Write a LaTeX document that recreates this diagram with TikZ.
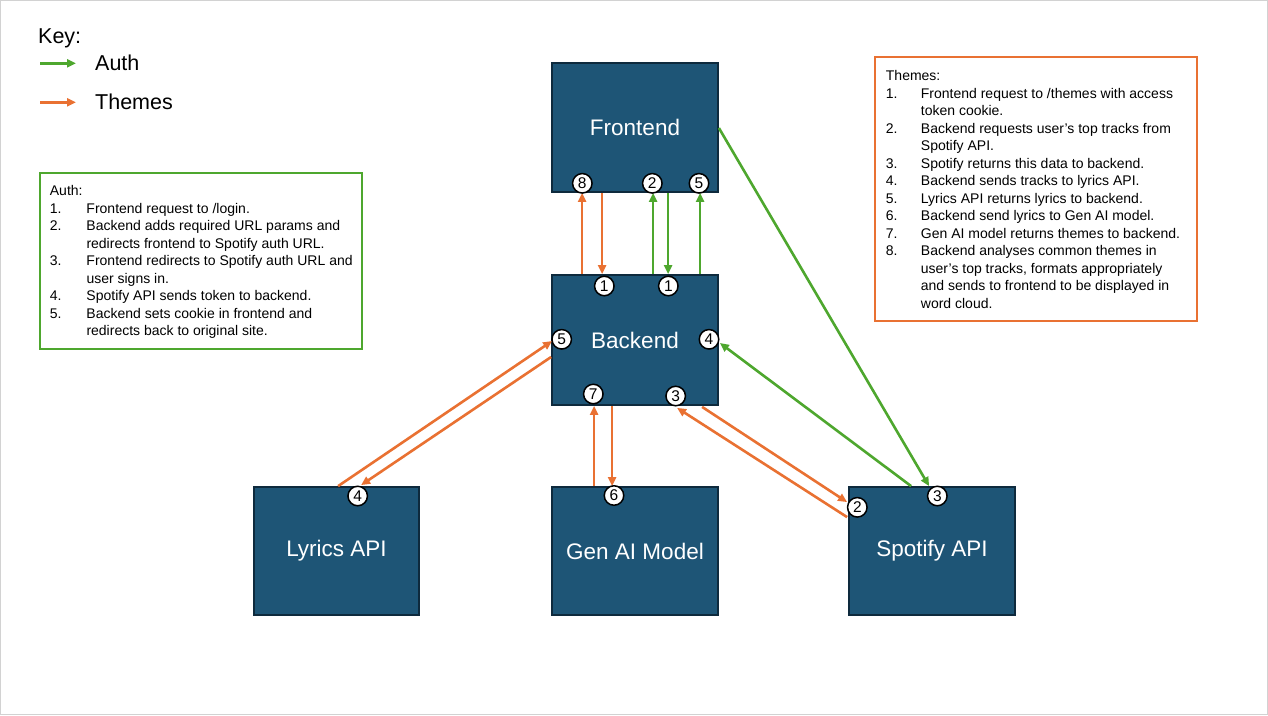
\documentclass[tikz,border=0pt]{standalone}
\usepackage{fontspec}
\setmainfont{Liberation Sans}
\usetikzlibrary{arrows.meta,calc}
\definecolor{boxfill}{HTML}{1E5576}
\definecolor{boxborder}{HTML}{0E2A3D}
\definecolor{authgreen}{HTML}{4EA72E}
\definecolor{themeorange}{HTML}{E97132}
\begin{document}
\begin{tikzpicture}[x=1pt,y=-1pt,
  comp/.style={draw=boxborder, line width=1.8pt, fill=boxfill, minimum width=166pt, minimum height=129pt, text=white, font=\fontsize{22.5}{26}\selectfont, inner sep=0pt},
  num/.style={circle, draw=black, line width=1.5pt, fill=white, minimum size=19.5pt, inner sep=0pt, font=\fontsize{15.5}{15.5}\selectfont},
  authar/.style={draw=authgreen, line width=2.6pt, -{Triangle[length=9pt,width=8pt]}},
  themear/.style={draw=themeorange, line width=2.6pt, -{Triangle[length=9pt,width=8pt]}},
  listtext/.style={anchor=north west, inner sep=0pt, font=\fontsize{14}{17.5}\selectfont},
  keytext/.style={anchor=west, inner sep=0pt, font=\fontsize{21.5}{25}\selectfont}
]
\useasboundingbox (0,0) rectangle (1268,715);
\draw[gray!35, line width=1pt] (0.5,0.5) rectangle (1267.5,714.5);

% Key
\node[keytext] (keytitle) at (38,38) {Key:};
\coordinate (ka1) at (40,63.3);
\coordinate (ka2) at (76,63.3);
\coordinate (kb1) at (40,102.3);
\coordinate (kb2) at (76,102.3);
\draw[authgreen, line width=2.6pt, -{Triangle[length=9pt,width=8pt]}] (ka1) -- (ka2);
\draw[themeorange, line width=2.6pt, -{Triangle[length=9pt,width=8pt]}] (kb1) -- (kb2);
\node[keytext] (keyauth) at (95,63.3) {Auth};
\node[keytext] (keythemes) at (95,101.5) {Themes};

% Components
\node[comp] (fe) at (635,127.5) {Frontend};
\node[comp, minimum height=130pt] (be) at (635,340) {Backend};
\node[comp, minimum width=165pt, minimum height=128pt] (ly) at (336.5,551) {Lyrics API};
\node[comp, minimum height=128pt] (ga) at (635,551) {Gen AI Model};
\node[comp, minimum height=128pt] (sp) at (932,551) {Spotify API};

% Frontend <-> Backend
\draw[themear] ($(be.north west)+(31,0)$) -- ($(fe.south west)+(31,0)$);
\draw[themear] ($(fe.south west)+(51,0)$) -- ($(be.north west)+(51,0)$);
\draw[authar] ($(be.north west)+(102,0)$) -- ($(fe.south west)+(102,0)$);
\draw[authar] ($(fe.south west)+(117,0)$) -- ($(be.north west)+(117,0)$);
\draw[authar] ($(be.north west)+(149,0)$) -- ($(fe.south west)+(149,0)$);

% Frontend -> Spotify, Spotify -> Backend (auth)
\draw[authar] ($(fe.east)+(0,0.5)$) -- ($(sp.north west)+(81,0)$);
\draw[authar] ($(sp.north west)+(63,0)$) -- ($(be.east)+(1,3)$);

% Lyrics
\draw[themear] ($(ly.north west)+(85,0)$) -- ($(be.west)+(1,1)$);
\draw[themear] ($(be.west)+(0,17)$) -- ($(ly.north west)+(108,-1)$);

% Gen AI
\draw[themear] ($(ga.north west)+(43,0)$) -- ($(be.south west)+(43,0)$);
\draw[themear] ($(be.south west)+(61,0)$) -- ($(ga.north west)+(61,0)$);

% Spotify (themes)
\draw[themear] ($(sp.north west)+(-1,31)$) -- ($(be.south west)+(126,2)$);
\draw[themear] ($(be.south west)+(151,1)$) -- ($(sp.north west)+(-1,16)$);

% Number circles
\node[num] (f8) at (582.3,183.3) {8};
\node[num] (f2) at (652.3,183.3) {2};
\node[num] (f5) at (699,183.3) {5};
\node[num] (b1a) at (604.3,286) {1};
\node[num] (b1b) at (668.3,286) {1};
\node[num] (b5) at (561.7,339.3) {5};
\node[num] (b4) at (709,339.3) {4};
\node[num] (b7) at (593.3,394) {7};
\node[num] (b3) at (675.7,396) {3};
\node[num] (l4) at (357.7,496) {4};
\node[num] (g6) at (614,495.5) {6};
\node[num] (s2) at (857.3,507.3) {2};
\node[num] (s3) at (937.3,496) {3};

% Auth list
\draw[authgreen, line width=2.2pt] (40,173) rectangle (362,349);
\node[listtext] (authlist) at (49.7,183.5) {%
\begin{tabular}{@{}p{36.6pt}@{}l@{}}
\multicolumn{2}{@{}l@{}}{Auth:}\\
1. & Frontend request to /login.\\
2. & Backend adds required URL params and\\
   & redirects frontend to Spotify auth URL.\\
3. & Frontend redirects to Spotify auth URL and\\
   & user signs in.\\
4. & Spotify API sends token to backend.\\
5. & Backend sets cookie in frontend and\\
   & redirects back to original site.
\end{tabular}};

% Themes list
\draw[themeorange, line width=2.2pt] (875,57) rectangle (1197,321);
\node[listtext] (themelist) at (885.7,68.5) {%
\begin{tabular}{@{}p{35pt}@{}l@{}}
\multicolumn{2}{@{}l@{}}{Themes:}\\
1. & Frontend request to /themes with access\\
   & token cookie.\\
2. & Backend requests user’s top tracks from\\
   & Spotify API.\\
3. & Spotify returns this data to backend.\\
4. & Backend sends tracks to lyrics API.\\
5. & Lyrics API returns lyrics to backend.\\
6. & Backend send lyrics to Gen AI model.\\
7. & Gen AI model returns themes to backend.\\
8. & Backend analyses common themes in\\
   & user’s top tracks, formats appropriately\\
   & and sends to frontend to be displayed in\\
   & word cloud.
\end{tabular}};
\end{tikzpicture}
\end{document}
